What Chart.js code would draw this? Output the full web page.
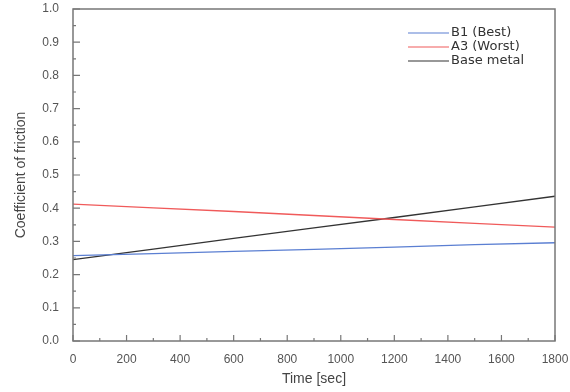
<!DOCTYPE html>
<html>
<head>
<meta charset="utf-8">
<script src="https://cdn.jsdelivr.net/npm/chart.js@4"></script>
<style>
  html, body { margin: 0; padding: 0; background: #fff; }
  #wrap { width: 570px; height: 392px; }
</style>
</head>
<body>
<div id="wrap"><canvas id="chart" width="570" height="392"></canvas></div>
<script>
// values
var times = [0, 300, 600, 900, 1200, 1500, 1800];
var b1Best = [0.257, 0.263, 0.270, 0.276, 0.283, 0.290, 0.296];
var a3Worst = [0.412, 0.401, 0.390, 0.378, 0.366, 0.354, 0.343];
var baseMetal = [0.245, 0.277, 0.309, 0.341, 0.372, 0.404, 0.436];
var seriesNames = ['B1 (Best)', 'A3 (Worst)', 'Base metal'];
var seriesColors = ['#5b7fd2', '#f05a5a', '#333333'];

function toPoints(vals) {
    return vals.map(function (v, i) { return { x: times[i], y: v }; });
}

var tickFont = { family: '"Liberation Sans", Arial, sans-serif', size: 12 };
var titleFont = { family: '"Liberation Sans", Arial, sans-serif', size: 14 };

// frame, inner ticks and the legend box
var framePlugin = {
    id: 'frame',
    afterDraw: function (chart) {
        var ctx = chart.ctx;
        var a = chart.chartArea;
        var xs = chart.scales.x, ys = chart.scales.y;
        ctx.save();
        ctx.strokeStyle = '#777';
        ctx.lineWidth = 1.5;
        ctx.strokeRect(a.left, a.top, a.right - a.left, a.bottom - a.top);

        ctx.lineWidth = 1.2;
        ctx.beginPath();
        for (var t = 0; t <= 1800; t += 100) {
            var px = xs.getPixelForValue(t);
            var len = (t % 200 === 0) ? 6 : 3;
            ctx.moveTo(px, a.bottom);
            ctx.lineTo(px, a.bottom - len);
        }
        for (var k = 0; k <= 20; k++) {
            var py = ys.getPixelForValue(k * 0.05);
            var l = (k % 2 === 0) ? 7 : 3;
            ctx.moveTo(a.left, py);
            ctx.lineTo(a.left + l, py);
        }
        ctx.stroke();

        // legend
        ctx.font = '13px "DejaVu Sans", sans-serif';
        ctx.textBaseline = 'middle';
        ctx.fillStyle = '#333';
        for (var i = 0; i < seriesNames.length; i++) {
            var ly = 33 + i * 14;
            ctx.strokeStyle = seriesColors[i];
            ctx.lineWidth = 1.2;
            ctx.beginPath();
            ctx.moveTo(408, ly);
            ctx.lineTo(449, ly);
            ctx.stroke();
            ctx.fillText(seriesNames[i], 451, ly);
        }
        ctx.restore();
    }
};

var ctx = document.getElementById('chart').getContext('2d');
new Chart(ctx, {
    type: 'line',
    data: {
        datasets: [
            { label: seriesNames[0], data: toPoints(b1Best), borderColor: seriesColors[0] },
            { label: seriesNames[1], data: toPoints(a3Worst), borderColor: seriesColors[1] },
            { label: seriesNames[2], data: toPoints(baseMetal), borderColor: seriesColors[2] }
        ]
    },
    options: {
        responsive: false,
        animation: false,
        layout: { padding: { top: 9, right: 15, left: 0, bottom: 0 } },
        elements: {
            point: { radius: 0 },
            line: { borderWidth: 1.3, tension: 0 }
        },
        plugins: { legend: { display: false }, tooltip: { enabled: false } },
        scales: {
            x: {
                type: 'linear',
                min: 0,
                max: 1800,
                grid: { display: false },
                border: { display: false },
                ticks: {
                    stepSize: 200,
                    color: '#555',
                    padding: 3,
                    maxRotation: 0,
                    font: tickFont,
                    callback: function (v) { return String(v); }
                },
                title: {
                    display: true,
                    text: 'Time [sec]',
                    color: '#444',
                    padding: { top: 6 },
                    font: titleFont
                },
                afterFit: function (scale) {
                    scale.height = 51;
                    scale.paddingLeft = 0;
                    scale.paddingRight = 0;
                }
            },
            y: {
                min: 0,
                max: 1.0,
                grid: { display: false },
                border: { display: false },
                ticks: {
                    stepSize: 0.1,
                    color: '#555',
                    padding: 6,
                    font: tickFont,
                    callback: function (v) { return v.toFixed(1); }
                },
                title: {
                    display: true,
                    text: 'Coefficient of friction',
                    color: '#444',
                    padding: { top: 13, bottom: 4 },
                    font: titleFont
                },
                afterFit: function (scale) {
                    scale.width = 73;
                    scale.paddingTop = 0;
                    scale.paddingBottom = 0;
                }
            }
        }
    },
    plugins: [framePlugin]
});
</script>
</body>
</html>
